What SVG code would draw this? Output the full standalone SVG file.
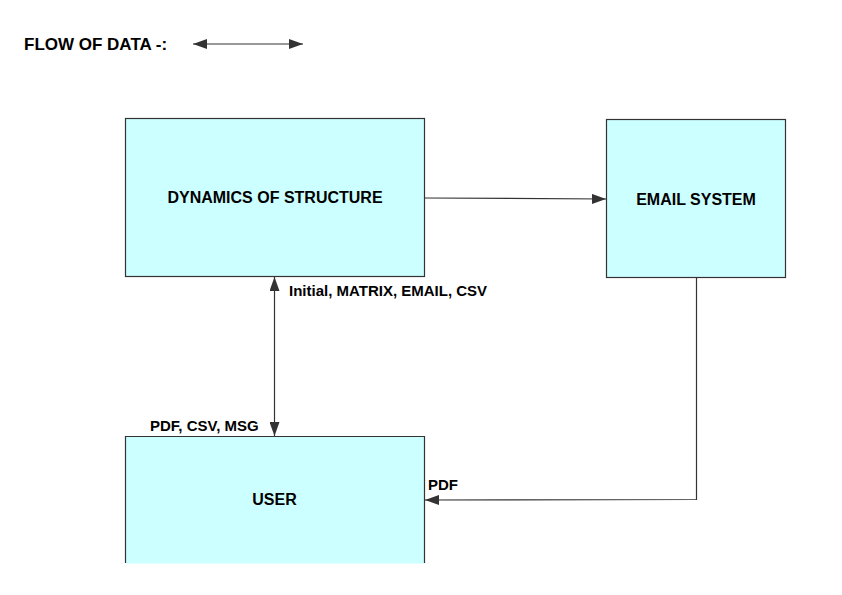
<svg xmlns="http://www.w3.org/2000/svg" width="842" height="595" viewBox="0 0 842 595">
<style>
.box{fill:#CCFFFF;stroke:#333333;stroke-width:1.2}
.edge{fill:none;stroke:#333333;stroke-width:1.2}
.t{font-family:"Liberation Sans",Arial,sans-serif;font-weight:bold;fill:#000;font-size:16px}
.lbl{font-family:"Liberation Sans",Arial,sans-serif;font-weight:bold;fill:#000;font-size:15px}
</style>
<defs>
<marker id="ah" viewBox="0 0 14 10" refX="14" refY="5" markerWidth="14" markerHeight="10" markerUnits="userSpaceOnUse" orient="auto-start-reverse">
<path d="M0,0 L14,5 L0,10 Z" fill="#333333"/>
</marker>
</defs>
<rect width="842" height="595" fill="#ffffff"/>
<g id="legend">
<text class="t" x="24" y="50" font-size="17" style="font-size:17px">FLOW OF DATA -:</text>
<line class="edge" x1="193" y1="44" x2="303" y2="44" marker-start="url(#ah)" marker-end="url(#ah)"/>
</g>
<g id="dynamics">
<rect class="box" x="125.5" y="118.5" width="299" height="158"/>
<text class="t" x="275" y="203" text-anchor="middle">DYNAMICS OF STRUCTURE</text>
</g>
<g id="email">
<rect class="box" x="606.5" y="119.5" width="179" height="158"/>
<text class="t" x="696" y="205" text-anchor="middle">EMAIL SYSTEM</text>
</g>
<g id="user">
<rect x="125.5" y="436.5" width="299" height="127" fill="#CCFFFF"/>
<path d="M125.5,563 L125.5,436.5 L424.5,436.5 L424.5,563" class="edge"/>
<text class="t" x="274.5" y="505" text-anchor="middle">USER</text>
</g>
<g id="connectors">
<line class="edge" x1="425" y1="198" x2="606" y2="199" marker-end="url(#ah)"/>
<line class="edge" x1="274.5" y1="277" x2="274.5" y2="436" marker-start="url(#ah)" marker-end="url(#ah)"/>
<polyline class="edge" points="696.5,277.5 696.5,499.5 425,500" marker-end="url(#ah)"/>
<text class="lbl" x="289" y="296">Initial, MATRIX, EMAIL, CSV</text>
<text class="lbl" x="150" y="431">PDF, CSV, MSG</text>
<text class="lbl" x="428" y="490">PDF</text>
</g>
</svg>
